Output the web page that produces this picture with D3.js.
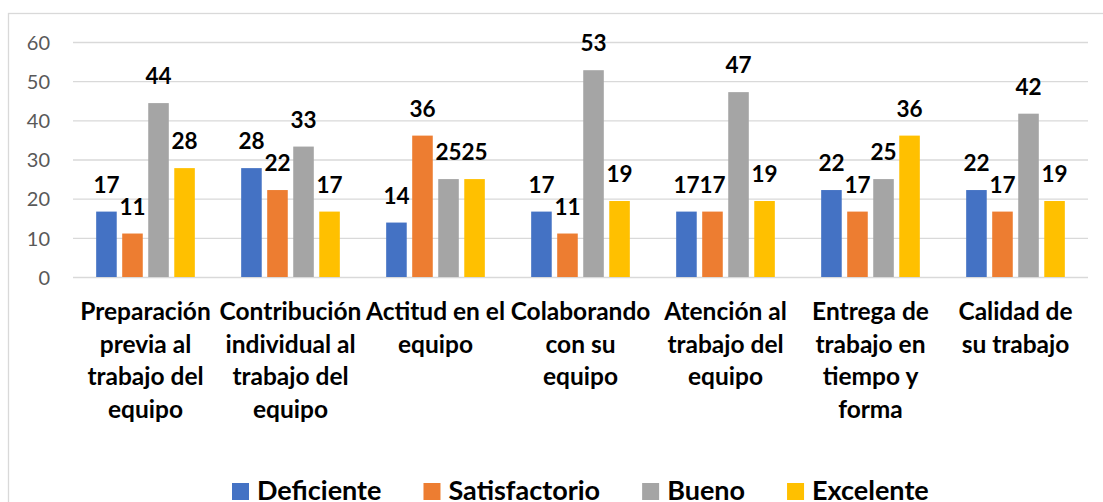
<!DOCTYPE html>
<html>
<head>
<meta charset="utf-8">
<script src="https://cdn.jsdelivr.net/npm/d3@7"></script>
<style>
  body { margin: 0; background: #fff; }
  svg { display: block; font-family: Lato, "Open Sans", sans-serif; }
</style>
</head>
<body>
<div id="chart"></div>
<script>
const width = 1103;
const height = 502;

// categories (one array of lines per tick label)
const categories = [
    ["Preparación", "previa al", "trabajo del", "equipo"],
    ["Contribución", "individual al", "trabajo del", "equipo"],
    ["Actitud en el", "equipo"],
    ["Colaborando", "con su", "equipo"],
    ["Atención al", "trabajo del", "equipo"],
    ["Entrega de", "trabajo en", "tiempo y", "forma"],
    ["Calidad de", "su trabajo"]
];

const seriesNames = ["Deficiente", "Satisfactorio", "Bueno", "Excelente"];
const seriesColors = ["#4472C4", "#ED7D31", "#A5A5A5", "#FFC000"];

const deficiente    = [16.7, 27.8, 13.9, 16.7, 16.7, 22.2, 22.2];
const satisfactorio = [11.1, 22.2, 36.1, 11.1, 16.7, 16.7, 16.7];
const bueno         = [44.4, 33.3, 25.0, 52.8, 47.2, 25.0, 41.7];
const excelente     = [27.8, 16.7, 25.0, 19.4, 19.4, 36.1, 19.4];

const yTicks = [0, 10, 20, 30, 40, 50, 60];

const seriesValues = [deficiente, satisfactorio, bueno, excelente];

const rows = categories.map((c, i) => ({
    key: i,
    lines: c,
    values: seriesNames.map((s, j) => ({ series: s, idx: j, value: seriesValues[j][i] }))
}));

const plot = { left: 73, right: 1088, top: 42, bottom: 277 };

const svg = d3.select("#chart").append("svg")
    .attr("width", width)
    .attr("height", height);

// outer frame
svg.append("rect")
    .attr("x", 8.5).attr("y", 13.5)
    .attr("width", width + 10).attr("height", height + 10)
    .attr("fill", "none")
    .attr("stroke", "#d9d9d9")
    .attr("stroke-width", 1.3);

const x0 = d3.scaleBand()
    .domain(rows.map(d => d.key))
    .range([plot.left, plot.right]);

const x1 = d3.scaleBand()
    .domain(seriesNames)
    .range([0, x0.bandwidth()])
    .paddingInner(0.21)
    .paddingOuter(0.89);

const yScale = d3.scaleLinear()
    .domain([0, 60])
    .range([plot.bottom, plot.top]);

const color = d3.scaleOrdinal().domain(seriesNames).range(seriesColors);

// gridlines
const grid = svg.append("g")
    .attr("transform", `translate(${plot.left},0)`)
    .call(d3.axisLeft(yScale).tickValues(yTicks).tickFormat("").tickSize(-(plot.right - plot.left)));
grid.select(".domain").remove();
grid.selectAll("line").attr("stroke", "#d9d9d9").attr("stroke-width", 1.3);

// y labels
const yAxis = svg.append("g")
    .attr("transform", `translate(50,0)`)
    .call(d3.axisLeft(yScale).tickValues(yTicks).tickSize(0).tickPadding(0));
yAxis.select(".domain").remove();
yAxis.selectAll("text")
    .attr("font-family", "Lato, sans-serif")
    .attr("font-size", 20)
    .attr("fill", "#595959")
    .attr("dy", "0.36em");

// bars
const groups = svg.append("g").attr("class", "bars")
    .selectAll("g")
    .data(rows)
    .join("g")
    .attr("transform", d => `translate(${x0(d.key)},0)`);

groups.selectAll("rect")
    .data(d => d.values)
    .join("rect")
    .attr("x", d => x1(d.series))
    .attr("y", d => yScale(d.value))
    .attr("width", x1.bandwidth())
    .attr("height", d => yScale(0) - yScale(d.value))
    .attr("fill", d => color(d.series));

groups.selectAll("text")
    .data(d => d.values)
    .join("text")
    .attr("x", d => x1(d.series) + x1.bandwidth() / 2)
    .attr("y", d => yScale(d.value) - 19)
    .attr("text-anchor", "middle")
    .attr("font-size", 22.5)
    .attr("font-weight", "bold")
    .attr("fill", "#000")
    .text(d => d3.format(".0f")(d.value));

// category labels
const xLabels = svg.append("g").selectAll("text")
    .data(rows)
    .join("text")
    .attr("text-anchor", "middle")
    .attr("font-size", 24.5)
    .attr("font-weight", "bold")
    .attr("fill", "#000");

xLabels.selectAll("tspan")
    .data(d => d.lines.map(l => ({ l, key: d.key })))
    .join("tspan")
    .attr("x", d => x0(d.key) + x0.bandwidth() / 2)
    .attr("y", (d, i) => 320 + i * 32.5)
    .text(d => d.l);

// legend
const legend = svg.append("g").attr("class", "legend");
let lx = 232;
seriesNames.forEach((s) => {
    const item = legend.append("g").attr("transform", `translate(${lx},0)`);
    item.append("rect")
        .attr("x", 0).attr("y", 483)
        .attr("width", 17).attr("height", 17)
        .attr("fill", color(s));
    const t = item.append("text")
        .attr("x", 25).attr("y", 500)
        .attr("font-size", 27)
        .attr("font-weight", "bold")
        .attr("fill", "#000")
        .text(s);
    lx += 25 + t.node().getComputedTextLength() + 42;
});
</script>
</body>
</html>
